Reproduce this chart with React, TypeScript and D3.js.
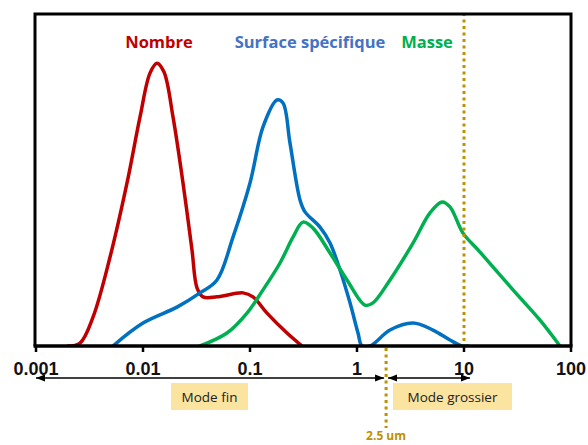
import React from "react";
import * as d3 from "d3";

// Particle size (µm) and relative density values
const nombreSize = [0.00199, 0.00258, 0.00341, 0.00492, 0.00709, 0.00938, 0.01162, 0.01351, 0.01572, 0.01907, 0.02365, 0.0287, 0.03197, 0.03637, 0.04915, 0.08603, 0.1067, 0.1442, 0.2217, 0.3062];
const nombreValue = [0, 0.9, 8.7, 26.8, 49.1, 69.0, 82.2, 85.2, 82.5, 69.0, 49.1, 28.9, 17.5, 14.8, 14.8, 16.0, 14.8, 9.9, 3.9, 0];

const surfaceSize = [0.00524, 0.01, 0.02078, 0.0341, 0.04915, 0.06937, 0.1, 0.1323, 0.1788, 0.2034, 0.2365, 0.2933, 0.3266, 0.451, 0.5596, 0.6937, 0.8603, 1.022, 1.114, 1.323, 2.034, 3.337, 5.133, 7.399, 9.578, 10.9];
const surfaceValue = [0, 6.9, 11.7, 16.0, 19.9, 32.8, 49.1, 66.0, 74.1, 73.2, 61.1, 44.0, 40.4, 35.8, 31.0, 22.9, 13.0, 3.9, 0, 0, 4.8, 6.9, 4.8, 1.8, 0, 0];

const masseSize = [0.0341, 0.06095, 0.09376, 0.1323, 0.1907, 0.2522, 0.3129, 0.388, 0.5596, 0.8063, 1.188, 1.411, 2.034, 3.337, 4.81, 6.229, 7.399, 9.788, 14.11, 28.7, 51.33, 78.9];
const masseValue = [0, 3.9, 9.9, 16.9, 25.0, 32.8, 37.3, 35.5, 28.0, 19.9, 12.3, 13.0, 19.9, 31.0, 40.1, 43.4, 41.9, 34.0, 28.3, 16.9, 7.8, 0];

const tickValues = [0.001, 0.01, 0.1, 1, 10, 100];
const tickLabels = ["0.001", "0.01", "0.1", "1", "10", "100"];

const seriesNames = ["Nombre", "Surface spécifique", "Masse"];
const cutoffPosition = 1.87; // where the dotted separator is drawn
const cutoffLabel = "2.5 um";
const coarseMarker = 10;
const modeLabels = ["Mode fin", "Mode grossier"];

export default function App() {
  const W = 588, H = 445;
  const left = 36, right = 571, top = 14, bottom = 346;
  const x = d3.scaleLog().domain([0.001, 100]).range([left, right]);
  const y = d3.scaleLinear().domain([0, 100]).range([bottom, top]);

  const line = d3
    .line<[number, number]>()
    .x((d) => x(d[0]))
    .y((d) => y(d[1]))
    .curve(d3.curveCatmullRom.alpha(0.5));

  const series = [
    { name: seriesNames[0], size: nombreSize, value: nombreValue, color: "#C00000", text: "#C00000" },
    { name: seriesNames[1], size: surfaceSize, value: surfaceValue, color: "#0070C0", text: "#4472C4" },
    { name: seriesNames[2], size: masseSize, value: masseValue, color: "#00B050", text: "#00B050" },
  ];
  const labelX = [159, 310, 427];

  const gold = "#BF9000";
  const arrowY = 378;
  const xc = x(cutoffPosition);

  return (
    <svg width={W} height={H} style={{ position: "absolute", left: 0, top: 0, background: "#fff" }}>
      <defs>
        <marker id="ah" viewBox="0 0 10 10" refX="10" refY="5" markerWidth="9" markerHeight="9" markerUnits="userSpaceOnUse" orient="auto-start-reverse">
          <path d="M0,1 L10,5 L0,9 Z" fill="#000" />
        </marker>
        <clipPath id="plot">
          <rect x={left} y={top} width={right - left} height={bottom - top - 0.5} />
        </clipPath>
      </defs>

      <g clipPath="url(#plot)">
        {series.map((s) => (
          <path
            key={s.name}
            d={line(s.size.map((v, i) => [v, s.value[i]] as [number, number])) || ""}
            fill="none"
            stroke={s.color}
            strokeWidth={3.5}
            strokeLinejoin="round"
            strokeLinecap="round"
          />
        ))}
      </g>

      {/* dotted marker at 10 */}
      <line x1={x(coarseMarker)} x2={x(coarseMarker)} y1={top - 1} y2={bottom} stroke={gold} strokeWidth={3} strokeDasharray="3,3.5" />

      {/* frame */}
      <path d={`M${left - 1},${bottom} V${top} H${right} V${bottom}`} fill="none" stroke="#000" strokeWidth={3} />
      <line x1={left - 2.5} x2={right + 1.5} y1={bottom} y2={bottom} stroke="#000" strokeWidth={3.5} />

      {tickValues.map((t, i) => (
        <g key={t}>
          <line x1={x(t)} x2={x(t)} y1={bottom} y2={bottom + 6} stroke="#000" strokeWidth={2.5} />
          <text x={x(t)} y={375} textAnchor="middle" fontFamily="Liberation Sans, Arial, sans-serif" fontWeight="bold" fontSize={18} fill="#111">
            {tickLabels[i]}
          </text>
        </g>
      ))}

      {series.map((s, i) => (
        <text key={s.name} x={labelX[i]} y={48} textAnchor="middle" fontFamily="Open Sans, sans-serif" fontWeight="bold" fontSize={16.5} fill={s.text}>
          {s.name}
        </text>
      ))}

      {/* cutoff line */}
      <line x1={xc} x2={xc} y1={bottom + 2} y2={428} stroke={gold} strokeWidth={3} strokeDasharray="3,3.5" />
      <text x={xc} y={440} textAnchor="middle" fontFamily="Open Sans, sans-serif" fontWeight="bold" fontSize={12} fill={gold}>
        {cutoffLabel}
      </text>

      {/* arrows */}
      <line x1={x(0.001)} x2={xc - 2} y1={arrowY} y2={arrowY} stroke="#000" strokeWidth={1.3} markerStart="url(#ah)" markerEnd="url(#ah)" />
      <line x1={xc + 2} x2={x(coarseMarker) + 6} y1={arrowY} y2={arrowY} stroke="#000" strokeWidth={1.3} markerStart="url(#ah)" markerEnd="url(#ah)" />

      {/* mode boxes */}
      <rect x={171} y={383} width={77} height={27} fill="#FBE3A0" />
      <text x={209.5} y={401.5} textAnchor="middle" fontFamily="Open Sans, sans-serif" fontSize={13.5} fill="#222">
        {modeLabels[0]}
      </text>
      <rect x={393} y={383} width={119} height={27} fill="#FBE3A0" />
      <text x={452.5} y={401.5} textAnchor="middle" fontFamily="Open Sans, sans-serif" fontSize={13.5} fill="#222">
        {modeLabels[1]}
      </text>
    </svg>
  );
}
